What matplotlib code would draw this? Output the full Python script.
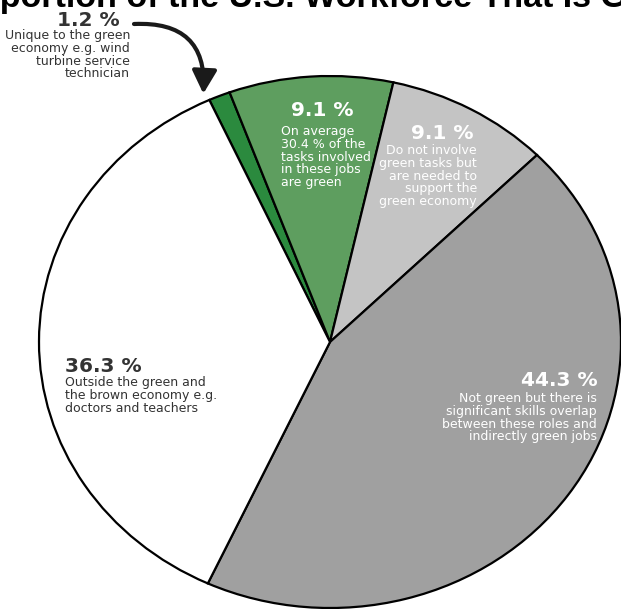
import matplotlib.pyplot as plt
import numpy as np

# Part du travail américain "verte"
shares = [1.2, 9.1, 9.1, 44.3, 36.3]
pct_labels = ["1.2 %", "9.1 %", "9.1 %", "44.3 %", "36.3 %"]
descriptions = [
    "Unique to the green\neconomy e.g. wind\nturbine service\ntechnician",
    "On average\n30.4 % of the\ntasks involved\nin these jobs\nare green",
    "Do not involve\ngreen tasks but\nare needed to\nsupport the\ngreen economy",
    "Not green but there is\nsignificant skills overlap\nbetween these roles and\nindirectly green jobs",
    "Outside the green and\nthe brown economy e.g.\ndoctors and teachers",
]
colors = ["#2b8a3e", "#5e9e5f", "#c4c4c4", "#a0a0a0", "#ffffff"]

W, H = 621, 609
fig = plt.figure(figsize=(W / 100, H / 100), dpi=100)

# L'image d'origine est étirée horizontalement -> ellipse
ax = fig.add_axes([39 / W, 1 / H, 582 / W, 532 / H])
wedges, _ = ax.pie(shares, colors=colors, startangle=114.5, counterclock=False,
                   wedgeprops=dict(edgecolor="black", linewidth=1.6))
ax.set_aspect("auto")
ax.set_xlim(-1, 1)
ax.set_ylim(-1, 1)


def px(x, y):
    return x / W, 1 - y / H


dark = "#333333"

# positions en pixels : (x, y, ha) du pourcentage, puis (x, y haut, ha) du texte
pct_pos = [(120, 20, "right"), (322, 110, "center"), (473, 133, "right"),
           (598, 380, "right"), (65, 366, "left")]
desc_pos = [(130, 29, "right"), (281, 125, "left"), (477, 144, "right"),
            (597, 392, "right"), (65, 376, "left")]
text_colors = [dark, "white", "white", "white", dark]

for (x, y, ha), (dx, dy, dha), c, pct, desc in zip(pct_pos, desc_pos, text_colors,
                                                   pct_labels, descriptions):
    fig.text(*px(x, y), pct, ha=ha, va="center", fontsize=14.5, fontweight="bold",
             color=c, family="DejaVu Sans")
    fig.text(*px(dx, dy), desc, ha=dha, va="top", fontsize=9, color=c,
             family="DejaVu Sans", linespacing=0.98, multialignment=dha)

# flèche vers la petite part (pointe juste à gauche de la part)
w = wedges[0]
theta = np.deg2rad(w.theta2 + 0.5)
tip = (np.cos(theta) * 1.03, np.sin(theta) * 1.03)
ax.annotate("", xy=tip, xycoords="data", xytext=px(134, 24), textcoords="figure fraction",
            arrowprops=dict(arrowstyle="-|>,head_length=1.4,head_width=0.75", color="#1a1a1a",
                            lw=3, connectionstyle="arc3,rad=-0.55", shrinkA=0, shrinkB=0),
            annotation_clip=False)

# titre coupé en haut, comme dans l'original
fig.text(*px(321, 7), "Proportion of the U.S. Workforce That Is Green", ha="center",
         va="baseline", fontsize=24.5, fontweight="bold", family="Liberation Sans")

fig.savefig("out.png", dpi=100)
